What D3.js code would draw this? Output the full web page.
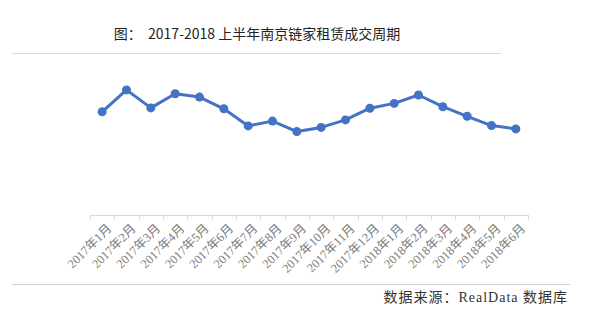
<!DOCTYPE html>
<html>
<head>
<meta charset="utf-8">
<script src="https://cdn.jsdelivr.net/npm/d3@7"></script>
<style>
  body { margin: 0; background: #fff; }
  svg { display: block; }
</style>
</head>
<body>
<svg id="chart"></svg>
<script>
// months and cycle values (days)
var months = ["2017年1月", "2017年2月", "2017年3月", "2017年4月", "2017年5月", "2017年6月",
  "2017年7月", "2017年8月", "2017年9月", "2017年10月", "2017年11月", "2017年12月",
  "2018年1月", "2018年2月", "2018年3月", "2018年4月", "2018年5月", "2018年6月"]
var cycleDays = [34.4, 41.7, 35.7, 40.4, 39.3, 35.4, 29.7, 31.3, 27.8, 29.2, 31.7, 35.6,
  37.2, 40.0, 36.1, 32.9, 29.8, 28.7]

var titleText = "图：  2017-2018 上半年南京链家租赁成交周期"
var sourceText = "数据来源：RealData 数据库"

var dimensions = {
    width: 597,
    height: 322,
    margin: { top: 65, bottom: 107, left: 90, right: 69 }
}
dimensions.boundedWidth = dimensions.width - dimensions.margin.left - dimensions.margin.right
dimensions.boundedHeight = dimensions.height - dimensions.margin.top - dimensions.margin.bottom

var svg = d3.select("#chart")
    .attr("width", dimensions.width)
    .attr("height", dimensions.height)

// title + rules
svg.append("text")
    .attr("x", 257)
    .attr("y", 39)
    .attr("text-anchor", "middle")
    .style("font-family", "'Noto Sans CJK SC', 'Noto Sans', sans-serif")
    .style("font-size", "14px")
    .style("fill", "#222")
    .style("white-space", "pre")
    .text(titleText)

svg.append("line")
    .attr("x1", 12).attr("x2", 501)
    .attr("y1", 53.5).attr("y2", 53.5)
    .style("stroke", "#dcdcdc")

svg.append("line")
    .attr("x1", 12).attr("x2", 570)
    .attr("y1", 284.5).attr("y2", 284.5)
    .style("stroke", "#cfcfcf")

svg.append("text")
    .attr("x", 568)
    .attr("y", 302)
    .attr("text-anchor", "end")
    .style("font-family", "'Liberation Serif', 'DejaVu Serif', 'Noto Sans CJK SC', serif")
    .style("font-size", "14px")
    .style("letter-spacing", "1px")
    .style("fill", "#333")
    .text(sourceText)

var g = svg.append("g")
    .attr("transform", "translate(" + dimensions.margin.left + "," + dimensions.margin.top + ")")

var xScale = d3.scaleBand()
    .domain(months)
    .range([0, dimensions.boundedWidth])

var yScale = d3.scaleLinear()
    .domain([0, 50])
    .range([dimensions.boundedHeight, 0])

// x axis with ticks on category boundaries
var axisG = g.append("g")
    .attr("transform", "translate(0," + dimensions.boundedHeight + ")")

axisG.append("line")
    .attr("x1", 0).attr("x2", dimensions.boundedWidth)
    .attr("y1", 0.5).attr("y2", 0.5)
    .style("stroke", "#d9d9d9")

var edges = months.map(function (m) { return xScale(m) }).concat([dimensions.boundedWidth])
axisG.selectAll(".tick")
    .data(edges)
    .enter()
    .append("line")
    .attr("x1", function (d) { return Math.round(d) + 0.5 })
    .attr("x2", function (d) { return Math.round(d) + 0.5 })
    .attr("y1", 0).attr("y2", 5)
    .style("stroke", "#d9d9d9")

axisG.selectAll(".lbl")
    .data(months)
    .enter()
    .append("text")
    .attr("transform", function (d) {
        return "translate(" + (xScale(d) + xScale.bandwidth() / 2 + 4) + ",8) rotate(-45)"
    })
    .attr("text-anchor", "end")
    .attr("dy", "0.7em")
    .style("font-family", "'Liberation Serif', 'DejaVu Serif', 'Noto Sans CJK SC', serif")
    .style("font-size", "12.5px")
    .style("fill", "#7a7a7a")
    .text(function (d) { return d })

// line + markers
var line = d3.line()
    .x(function (d, i) { return xScale(months[i]) + xScale.bandwidth() / 2 })
    .y(function (d) { return yScale(d) })

g.append("path")
    .datum(cycleDays)
    .attr("d", line)
    .style("fill", "none")
    .style("stroke", "#4472c4")
    .style("stroke-width", 3)
    .style("stroke-linejoin", "round")

g.selectAll(".dot")
    .data(cycleDays)
    .enter()
    .append("circle")
    .attr("cx", function (d, i) { return xScale(months[i]) + xScale.bandwidth() / 2 })
    .attr("cy", function (d) { return yScale(d) })
    .attr("r", 4.5)
    .style("fill", "#4472c4")
</script>
</body>
</html>
